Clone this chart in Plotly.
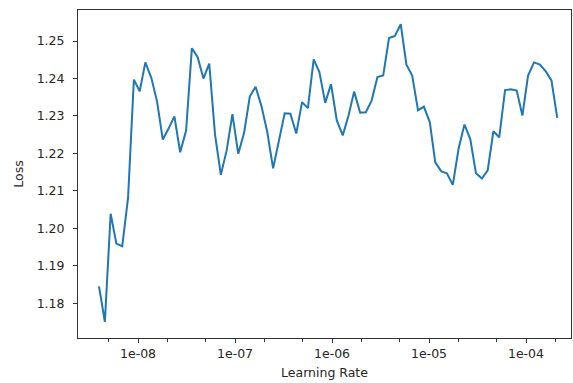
import plotly.graph_objects as go

learning_rate = [
    3.96e-9, 4.55e-9, 5.22e-9, 5.98e-9, 6.87e-9, 7.89e-9, 9.06e-9, 1.04e-8, 1.19e-8, 1.37e-8,
    1.57e-8, 1.80e-8, 2.07e-8, 2.37e-8, 2.72e-8, 3.13e-8, 3.59e-8, 4.12e-8, 4.72e-8, 5.42e-8,
    6.22e-8, 7.14e-8, 8.20e-8, 9.40e-8, 1.08e-7, 1.24e-7, 1.42e-7, 1.63e-7, 1.87e-7, 2.15e-7,
    2.47e-7, 2.83e-7, 3.25e-7, 3.72e-7, 4.28e-7, 4.91e-7, 5.64e-7, 6.47e-7, 7.41e-7, 8.51e-7,
    9.77e-7, 1.12e-6, 1.29e-6, 1.48e-6, 1.69e-6, 1.95e-6, 2.23e-6, 2.56e-6, 2.94e-6, 3.37e-6,
    3.87e-6, 4.45e-6, 5.11e-6, 5.85e-6, 6.71e-6, 7.71e-6, 8.85e-6, 1.02e-5, 1.16e-5, 1.34e-5,
    1.53e-5, 1.76e-5, 2.02e-5, 2.32e-5, 2.66e-5, 3.05e-5, 3.51e-5, 4.03e-5, 4.61e-5, 5.30e-5,
    6.08e-5, 6.98e-5, 8.02e-5, 9.18e-5, 1.05e-4, 1.21e-4, 1.39e-4, 1.60e-4, 1.83e-4, 2.10e-4,
]

loss = [
    1.1845, 1.1750, 1.2039, 1.1959, 1.1952, 1.2081, 1.2397, 1.2366, 1.2443, 1.2402,
    1.2339, 1.2237, 1.2267, 1.2299, 1.2203, 1.2261, 1.2481, 1.2457, 1.2400, 1.2440,
    1.2250, 1.2143, 1.2208, 1.2305, 1.2199, 1.2255, 1.2352, 1.2378, 1.2327, 1.2257,
    1.2160, 1.2237, 1.2307, 1.2306, 1.2253, 1.2337, 1.2321, 1.2451, 1.2417, 1.2335,
    1.2385, 1.2288, 1.2248, 1.2301, 1.2365, 1.2309, 1.2310, 1.2341, 1.2404, 1.2408,
    1.2508, 1.2514, 1.2545, 1.2437, 1.2408, 1.2315, 1.2325, 1.2283, 1.2176, 1.2152,
    1.2147, 1.2116, 1.2213, 1.2277, 1.2239, 1.2147, 1.2133, 1.2155, 1.2259, 1.2243,
    1.2369, 1.2371, 1.2368, 1.2301, 1.2408, 1.2443, 1.2437, 1.2419, 1.2395, 1.2295,
]

x_tick_vals = [1e-8, 1e-7, 1e-6, 1e-5, 1e-4]
x_tick_text = ["1e-08", "1e-07", "1e-06", "1e-05", "1e-04"]
y_tick_vals = [1.18, 1.19, 1.20, 1.21, 1.22, 1.23, 1.24, 1.25]
y_tick_text = ["1.18", "1.19", "1.20", "1.21", "1.22", "1.23", "1.24", "1.25"]

fig = go.Figure()
fig.add_trace(go.Scatter(
    x=learning_rate, y=loss, mode="lines",
    line=dict(color="#1f77b4", width=2),
    showlegend=False, hoverinfo="skip",
))

font = dict(family="DejaVu Sans", size=12.5, color="#262626")
fig.update_layout(
    width=573, height=383,
    margin=dict(l=78, r=2, t=10, b=45, autoexpand=False),
    paper_bgcolor="white", plot_bgcolor="white",
    font=font,
)
fig.update_xaxes(
    type="log", range=[-8.619, -3.536], automargin=False,
    tickvals=x_tick_vals, ticktext=x_tick_text,
    ticks="outside", ticklen=4, tickwidth=1, tickcolor="#333333",
    minor=dict(ticks="outside", ticklen=2.5, tickwidth=0.8, tickcolor="#333333", showgrid=False),
    showgrid=False, zeroline=False,
    showline=True, linecolor="#333333", linewidth=1, mirror=True,
    title=dict(text="Learning Rate", font=font, standoff=8),
)
fig.update_yaxes(
    range=[1.1707, 1.2583], automargin=False,
    tickvals=y_tick_vals, ticktext=y_tick_text,
    ticks="outside", ticklen=4, tickwidth=1, tickcolor="#333333",
    ticklabelstandoff=6,
    showgrid=False, zeroline=False,
    showline=True, linecolor="#333333", linewidth=1, mirror=True,
    title=dict(text="Loss", font=font, standoff=10),
)

fig.write_html(
    "out.html",
    config={"displayModeBar": False},
    post_script="document.body.style.margin='0';document.body.style.padding='0';",
)
